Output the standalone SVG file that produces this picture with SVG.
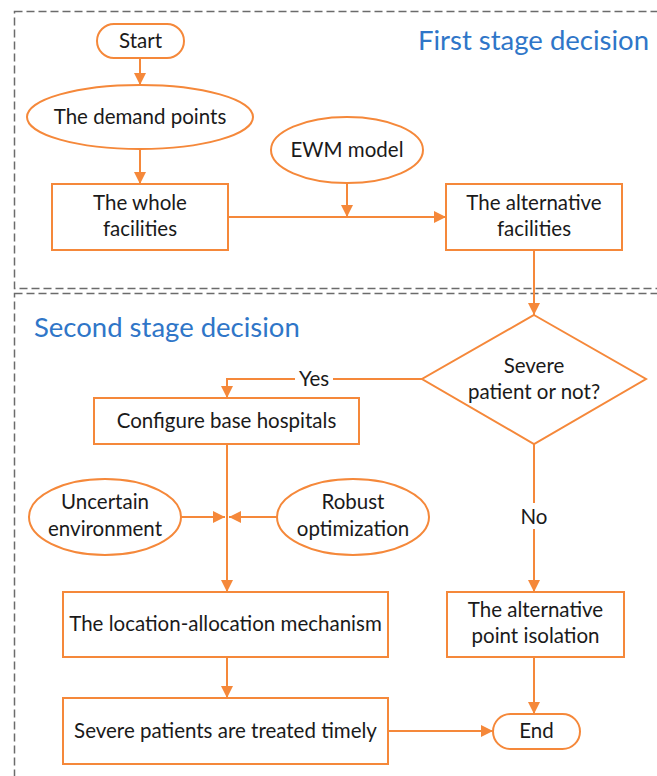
<svg xmlns="http://www.w3.org/2000/svg" width="657" height="776" viewBox="0 0 657 776">
  <style>
    .frame { fill: none; stroke: #6b6b6b; stroke-width: 1.5; stroke-dasharray: 8 4; }
    .node { fill: #ffffff; stroke: #f5883a; stroke-width: 2; }
    .edge { fill: none; stroke: #f5883a; stroke-width: 2; }
    .lbl { font-family: Lato, "Liberation Sans", sans-serif; font-size: 20.5px; fill: #1a1a1a; text-anchor: middle; }
    .stage { font-family: Lato, "Liberation Sans", sans-serif; font-size: 27.5px; fill: #2f76c8; }
  </style>
  <defs>
    <marker id="arrow" viewBox="0 0 10 10" refX="10" refY="5" markerWidth="6" markerHeight="6" orient="auto" markerUnits="strokeWidth">
      <path d="M0,0 L10,5 L0,10 z" fill="#f5883a"/>
    </marker>
  </defs>
  <rect width="657" height="776" fill="#ffffff"/>

  <!-- stage frames -->
  <g id="stages">
    <rect class="frame" x="14.5" y="11.5" width="660" height="277"/>
    <rect class="frame" x="14.5" y="293.5" width="660" height="500"/>
    <text class="stage" x="418" y="50">First stage decision</text>
    <text class="stage" x="34" y="337">Second stage decision</text>
  </g>

  <!-- connectors -->
  <g id="connectors">
    <line class="edge" x1="140" y1="58" x2="140" y2="85" marker-end="url(#arrow)"/>
    <line class="edge" x1="140" y1="149" x2="140" y2="184" marker-end="url(#arrow)"/>
    <line class="edge" x1="347" y1="183" x2="347" y2="217" marker-end="url(#arrow)"/>
    <line class="edge" x1="228" y1="217" x2="446" y2="217" marker-end="url(#arrow)"/>
    <line class="edge" x1="534" y1="250" x2="534" y2="315" marker-end="url(#arrow)"/>
    <polyline class="edge" points="422,379 227,379 227,398" marker-end="url(#arrow)"/>
    <line class="edge" x1="227" y1="444" x2="227" y2="592" marker-end="url(#arrow)"/>
    <line class="edge" x1="180" y1="517" x2="225" y2="517" marker-end="url(#arrow)"/>
    <line class="edge" x1="277" y1="517" x2="229" y2="517" marker-end="url(#arrow)"/>
    <line class="edge" x1="534" y1="444" x2="534" y2="592" marker-end="url(#arrow)"/>
    <line class="edge" x1="227" y1="657" x2="227" y2="698" marker-end="url(#arrow)"/>
    <line class="edge" x1="534" y1="657" x2="534" y2="714" marker-end="url(#arrow)"/>
    <line class="edge" x1="388" y1="731" x2="493" y2="731" marker-end="url(#arrow)"/>
    <rect x="295" y="367" width="38" height="22" fill="#ffffff"/>
    <text class="lbl" x="314" y="386">Yes</text>
    <rect x="517" y="503" width="34" height="26" fill="#ffffff"/>
    <text class="lbl" x="534" y="524">No</text>
  </g>

  <g id="start">
    <rect class="node" x="97" y="24" width="87" height="34" rx="17"/>
    <text class="lbl" x="140.5" y="48">Start</text>
  </g>
  <g id="demand-points">
    <ellipse class="node" cx="140" cy="117" rx="113" ry="32"/>
    <text class="lbl" x="140" y="124">The demand points</text>
  </g>
  <g id="whole-facilities">
    <rect class="node" x="52" y="184" width="176" height="66"/>
    <text class="lbl" x="140" y="210">The whole</text>
    <text class="lbl" x="140" y="236">facilities</text>
  </g>
  <g id="ewm-model">
    <ellipse class="node" cx="347" cy="150" rx="76" ry="33"/>
    <text class="lbl" x="347" y="157">EWM model</text>
  </g>
  <g id="alternative-facilities">
    <rect class="node" x="446" y="184" width="176" height="66"/>
    <text class="lbl" x="534" y="210">The alternative</text>
    <text class="lbl" x="534" y="236">facilities</text>
  </g>
  <g id="severe-decision">
    <polygon class="node" points="534,315 646,379 534,444 422,379"/>
    <text class="lbl" x="534" y="373">Severe</text>
    <text class="lbl" x="534" y="399">patient or not?</text>
  </g>
  <g id="configure-hospitals">
    <rect class="node" x="94" y="398" width="265" height="46"/>
    <text class="lbl" x="226.5" y="428">Configure base hospitals</text>
  </g>
  <g id="uncertain-environment">
    <ellipse class="node" cx="105" cy="517" rx="76" ry="38"/>
    <text class="lbl" x="105" y="509">Uncertain</text>
    <text class="lbl" x="105" y="536">environment</text>
  </g>
  <g id="robust-optimization">
    <ellipse class="node" cx="353" cy="517" rx="76" ry="38"/>
    <text class="lbl" x="353" y="509">Robust</text>
    <text class="lbl" x="353" y="536">optimization</text>
  </g>
  <g id="location-allocation">
    <rect class="node" x="63" y="592" width="325" height="65"/>
    <text class="lbl" x="225.5" y="631">The location-allocation mechanism</text>
  </g>
  <g id="point-isolation">
    <rect class="node" x="447" y="592" width="177" height="65"/>
    <text class="lbl" x="535.5" y="617">The alternative</text>
    <text class="lbl" x="535.5" y="643">point isolation</text>
  </g>
  <g id="treated-timely">
    <rect class="node" x="63" y="698" width="325" height="66"/>
    <text class="lbl" x="225.5" y="738">Severe patients are treated timely</text>
  </g>
  <g id="end">
    <rect class="node" x="493" y="714" width="87" height="35" rx="17.5"/>
    <text class="lbl" x="536.5" y="738">End</text>
  </g>
</svg>
